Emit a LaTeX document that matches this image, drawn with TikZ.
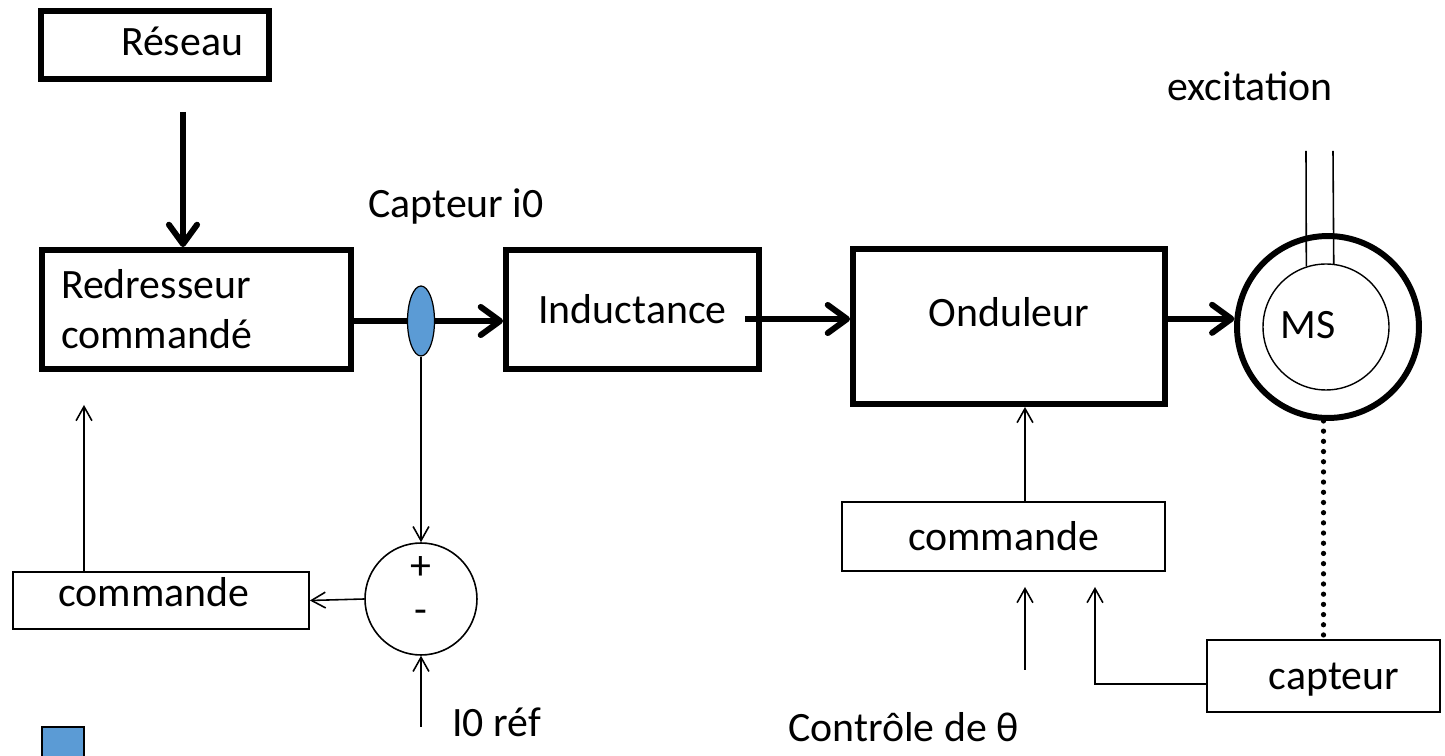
\documentclass[tikz,border=0pt]{standalone}
\usepackage{fontspec}
\setmainfont{Carlito}
\usetikzlibrary{arrows.meta,shapes.geometric}
\definecolor{capblue}{HTML}{5B9BD5}
\begin{document}
\begin{tikzpicture}[x=0.02cm,y=-0.02cm,
  font=\fontsize{23.8}{28.3}\selectfont,
  heavy/.style={line width=3.4pt},
  light/.style={line width=0.9pt},
  heavybox/.style={draw, heavy, rectangle, inner sep=0pt},
  lightbox/.style={draw, line width=1pt, rectangle, inner sep=0pt},
  bigarrow/.style={heavy, -{Straight Barb[length=11pt,width=16pt,round]}},
  smallarrow/.style={light, -{Straight Barb[length=8pt,width=9pt]}},
  dotline/.style={line width=3pt, line cap=round, dash pattern=on 0pt off 5.8pt},
  txt/.style={inner sep=0pt, anchor=base},
]
\useasboundingbox (0,0) rectangle (1445,756);

% power chain
\node[heavybox, minimum width=4.56cm, minimum height=1.36cm] (reseau) at (155,45) {};
\node[txt] (reseautxt) at (182,56) {Réseau};
\node[heavybox, minimum width=6.18cm, minimum height=2.38cm,
      text width=5.42cm, inner xsep=0.38cm, align=left] (redr) at (196.5,309.5) {Redresseur\\commandé};
\node[heavybox, minimum width=5.06cm, minimum height=2.38cm] (induct) at (632.5,309.5) {Inductance};
\node[heavybox, minimum width=6.24cm, minimum height=3.1cm] (ond) at (1009,326.5) {};
\node[txt] (ondtxt) at (1009,327) {Onduleur};

% synchronous machine
\node[circle, draw, heavy, inner sep=0pt, minimum size=3.64cm] (mso) at (1328,327) {};
\node[circle, draw, line width=0.8pt, inner sep=0pt, minimum size=2.52cm] (msi) at (1326,327) {};
\node[txt] (mstxt) at (1308,339) {MS};
\node[txt] (exclbl) at (1250,101) {excitation};
\coordinate (excA) at (1306,151);
\coordinate (excB) at (1333,151);
\draw[light] (excA) -- (msi.108.5);
\draw[light] (excB) -- (msi.83.6);

% control blocks
\node[circle, draw, light, inner sep=0pt, minimum size=2.24cm] (sum) at (421,599) {};
\node (plus) at (421,568) {+};
\node (minus) at (421,617) {-};
\node[lightbox, minimum width=5.92cm, minimum height=1.14cm] (cmdL) at (161,600.5) {};
\node[txt] (cmdLtxt) at (154,607) {commande};
\node[lightbox, minimum width=6.46cm, minimum height=1.38cm] (cmdR) at (1003.5,536.5) {commande};
\node[lightbox, minimum width=4.66cm, minimum height=1.44cm] (capt) at (1323.5,676) {};
\node[txt] (capttxt) at (1334,690) {capteur};

% labels
\node[txt, anchor=base west] (captlbl) at (368,218) {Capteur i0};
\node[txt, anchor=base west] (ireflbl) at (452,737) {I0 réf};
\node[txt, anchor=base east] (thetalbl) at (1019,742) {Contrôle de θ};

% free ends
\coordinate (feed) at (183,112);
\coordinate (sensc) at (421,321);
\coordinate (indout) at (745,319);
\coordinate (redrin) at (84,405);
\coordinate (iref) at (421,727);
\coordinate (theta) at (1025,670);
\coordinate (thetatip) at (1025,587);
\coordinate (captbend) at (1095,684);
\coordinate (capttip) at (1095,587);

% power flow
\draw[bigarrow] (feed) -- (feed |- redr.north);
\draw[bigarrow] (redr.east |- sensc) -- (induct.west |- sensc);
\draw[bigarrow] (indout) -- (indout -| ond.west);
\draw[bigarrow] (ond.east |- mso.175) -- (mso.175);

% current sensor
\node[ellipse, draw, fill=capblue, line width=0.7pt, inner sep=0pt,
      minimum width=0.54cm, minimum height=1.4cm] (sens) at (sensc) {};

% signal paths
\draw[smallarrow] (sens.south) -- (sum.north);
\draw[smallarrow] (sum.west) -- (cmdL.east);
\draw[smallarrow] (cmdL.north -| redrin) -- (redrin);
\draw[smallarrow] (iref) -- (sum.south);
\draw[smallarrow] (cmdR.north -| theta) -- (ond.south -| theta);
\draw[smallarrow] (theta) -- (thetatip);
\draw[smallarrow] (capt.west |- captbend) -- (captbend) -- (capttip);
\draw[dotline] (mso.south -| capt.north) -- (capt.north);

% small filled square
\draw[fill=capblue, line width=0.8pt] (42,727) rectangle (84,769);
\end{tikzpicture}
\end{document}
